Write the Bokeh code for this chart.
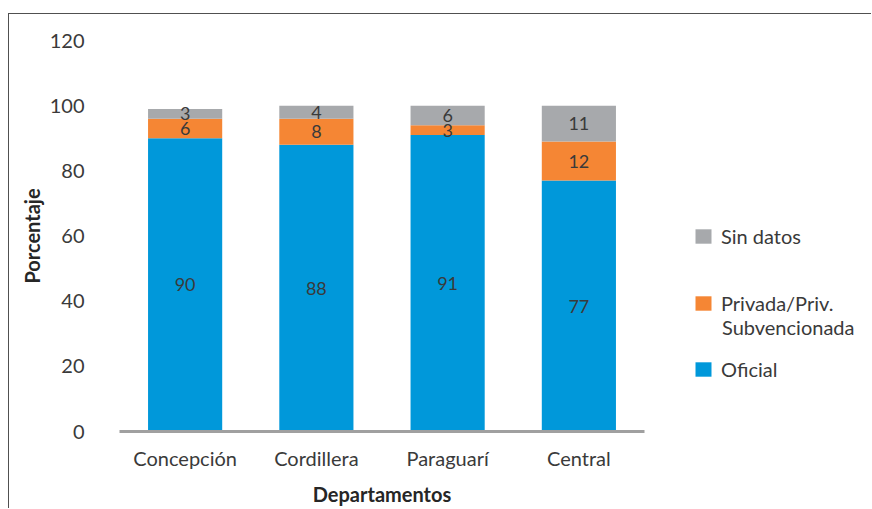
from bokeh.plotting import figure
from bokeh.layouts import row
from bokeh.models import (ColumnDataSource, LabelSet, Label, Legend, LegendItem,
                          Range1d, FixedTicker)
from bokeh.core.properties import value
from bokeh.embed import file_html
from bokeh.resources import INLINE

departamentos = ["Concepción", "Cordillera", "Paraguarí", "Central"]
oficial = [90, 88, 91, 77]
privada = [6, 8, 3, 12]
sin_datos = [3, 4, 6, 11]
y_ticks = [0, 20, 40, 60, 80, 100, 120]
series_names = ["Oficial", "Privada/Priv.", "Sin datos"]
privada_line2 = "Subvencionada"
colors = ["#0098DA", "#F58634", "#A7A9AC"]

FONT = "Lato"
TXT = "#3a3a3a"

src = ColumnDataSource(dict(
    dep=departamentos,
    oficial=oficial,
    privada=privada,
    sin_datos=sin_datos,
    y_of=[o / 2 for o in oficial],
    y_pr=[o + p / 2 for o, p in zip(oficial, privada)],
    y_sd=[o + p + s / 2 for o, p, s in zip(oficial, privada, sin_datos)],
    t_of=[str(v) for v in oficial],
    t_pr=[str(v) for v in privada],
    t_sd=[str(v) for v in sin_datos],
))

H = 494
p = figure(x_range=departamentos, y_range=Range1d(0, 120),
           width=650, height=H, output_backend="svg", toolbar_location=None,
           min_border_left=110, min_border_right=15, min_border_top=26,
           min_border_bottom=77)
p.xgrid.grid_line_color = None
p.ygrid.grid_line_color = None
p.outline_line_color = None

rs = p.vbar_stack(["oficial", "privada", "sin_datos"], x="dep", width=0.565,
                  color=colors, line_color=None, source=src)

for ycol, tcol in [("y_of", "t_of"), ("y_pr", "t_pr"), ("y_sd", "t_sd")]:
    p.add_layout(LabelSet(x="dep", y=ycol, text=tcol, source=src,
                          text_align="center", text_baseline="middle",
                          text_font=value(FONT), text_font_size="18px",
                          text_color=TXT))

p.yaxis.ticker = FixedTicker(ticks=y_ticks)
p.yaxis.axis_line_color = None
p.yaxis.major_tick_line_color = None
p.yaxis.minor_tick_line_color = None
p.yaxis.major_label_standoff = 29
p.yaxis.major_label_text_font = FONT
p.yaxis.major_label_text_font_size = "20px"
p.yaxis.major_label_text_color = TXT
p.yaxis.axis_label = "Porcentaje"
p.yaxis.axis_label_text_font = FONT
p.yaxis.axis_label_text_font_style = "bold"
p.yaxis.axis_label_text_font_size = "20px"
p.yaxis.axis_label_text_color = "#262626"
p.yaxis.axis_label_standoff = 3

p.xaxis.axis_line_color = "#A0A0A0"
p.xaxis.axis_line_width = 3
p.xaxis.major_tick_line_color = None
p.xaxis.minor_tick_line_color = None
p.xaxis.major_label_standoff = 8
p.xaxis.major_label_text_font = FONT
p.xaxis.major_label_text_font_size = "20px"
p.xaxis.major_label_text_color = TXT
p.xaxis.axis_label = "Departamentos"
p.xaxis.axis_label_text_font = FONT
p.xaxis.axis_label_text_font_style = "bold"
p.xaxis.axis_label_text_font_size = "20px"
p.xaxis.axis_label_text_color = "#262626"
p.xaxis.axis_label_standoff = 9

# legend panel: hidden copies of the stacks only feed the legend swatches
lf = figure(width=212, height=H, output_backend="svg", toolbar_location=None,
            x_range=departamentos, y_range=Range1d(500, 501),
            x_axis_location=None, y_axis_location=None,
            min_border=0, outline_line_color=None)
lf.xgrid.grid_line_color = None
lf.ygrid.grid_line_color = None
swatches = lf.vbar_stack(["oficial", "privada", "sin_datos"], x="dep",
                         width=0.5, color=colors, line_color=None, source=src)
for s in swatches:
    s.visible = False

leg_pos = {2: (34, 183), 1: (34, 116), 0: (34, 50)}
for idx in [2, 1, 0]:
    leg = Legend(items=[LegendItem(label=series_names[idx],
                                   renderers=[swatches[idx]])],
                 location=leg_pos[idx], border_line_color=None,
                 background_fill_alpha=0, padding=0, margin=0, spacing=0,
                 glyph_width=20, glyph_height=18, label_standoff=8,
                 label_height=18, label_text_font=FONT,
                 label_text_font_size="20px", label_text_color=TXT,
                 inactive_fill_alpha=0)
    lf.add_layout(leg, "center")

lf.add_layout(Label(x=62.5, y=105, x_units="screen", y_units="screen",
                    text=privada_line2, text_baseline="middle",
                    text_font=FONT, text_font_size="20px", text_color=TXT))

layout = row(p, lf, styles={"border-top": "1.5px solid #505050",
                            "border-left": "1.5px solid #505050",
                            "margin-left": "8px", "margin-top": "13px"})

open("out.html", "w").write(file_html(layout, INLINE))
